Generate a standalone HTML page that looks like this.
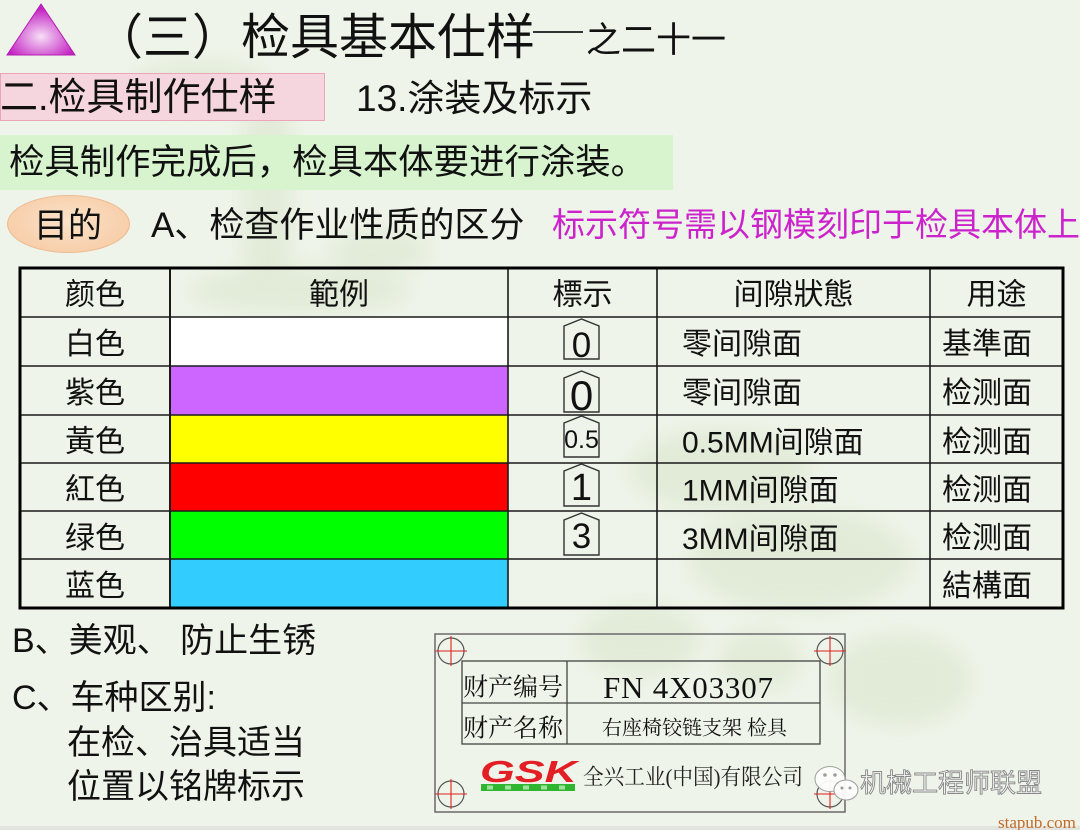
<!DOCTYPE html>
<html><head><meta charset="utf-8">
<style>
html,body{margin:0;padding:0}
body{width:1080px;height:830px;position:relative;overflow:hidden;background:#eef4e9;font-family:"Liberation Sans","Noto Sans CJK SC",sans-serif;color:#111}
.t{position:absolute;white-space:pre;line-height:1}
svg{position:absolute;left:0;top:0}
.box{position:absolute;box-sizing:border-box}
</style></head><body>
<svg width="1080" height="830" viewBox="0 0 1080 830">
<defs>
 <filter id="bl" x="-50%" y="-50%" width="200%" height="200%"><feGaussianBlur stdDeviation="10"/></filter>
 <radialGradient id="tri" cx="0.5" cy="0.64" r="0.55">
   <stop offset="0" stop-color="#f6e0f6"/><stop offset="0.35" stop-color="#e49ae4"/><stop offset="1" stop-color="#c222c2"/>
 </radialGradient>
</defs>
<!-- faint watermark -->
<g filter="url(#bl)" fill="#b6cc9a" opacity="0.22">
 <ellipse cx="200" cy="85" rx="70" ry="22"/>
 <rect x="245" y="110" width="45" height="160"/>
 <ellipse cx="300" cy="290" rx="110" ry="22"/>
 <ellipse cx="380" cy="250" rx="50" ry="20"/>
 <ellipse cx="720" cy="470" rx="90" ry="40"/>
 <ellipse cx="800" cy="560" rx="110" ry="50"/>
 <ellipse cx="640" cy="640" rx="60" ry="35"/>
 <ellipse cx="900" cy="680" rx="70" ry="45"/>
 <ellipse cx="760" cy="660" rx="40" ry="30"/>
</g>
<!-- triangle -->
<polygon points="41,4 7,55 75,55" fill="url(#tri)" stroke="#b41cb4" stroke-width="1"/>

<!-- table fills -->
<rect x="170" y="317" width="338" height="49" fill="#ffffff"/>
<rect x="170" y="366" width="338" height="49" fill="#cc66ff"/>
<rect x="170" y="415" width="338" height="48" fill="#ffff00"/>
<rect x="170" y="463" width="338" height="48" fill="#ff0000"/>
<rect x="170" y="511" width="338" height="48" fill="#00ff00"/>
<rect x="170" y="559" width="338" height="49" fill="#33ccff"/>
<!-- table lines -->
<g stroke="#1a1a1a" stroke-width="1.6">
 <line x1="20" y1="317" x2="1063" y2="317"/>
 <line x1="20" y1="366" x2="1063" y2="366"/>
 <line x1="20" y1="415" x2="1063" y2="415"/>
 <line x1="20" y1="463" x2="1063" y2="463"/>
 <line x1="20" y1="511" x2="1063" y2="511"/>
 <line x1="20" y1="559" x2="1063" y2="559"/>
 <line x1="170" y1="268" x2="170" y2="608" stroke-width="2"/>
 <line x1="508" y1="268" x2="508" y2="608"/>
 <line x1="657" y1="268" x2="657" y2="608"/>
 <line x1="930" y1="268" x2="930" y2="608"/>
</g>
<rect x="20" y="268" width="1043" height="340" fill="none" stroke="#000" stroke-width="3"/>

<!-- table text -->
<g font-family="Liberation Sans, Noto Sans CJK SC, sans-serif" font-size="30" fill="#111">
 <g text-anchor="middle">
  <text x="95" y="304.5">颜色</text>
  <text x="339" y="304.5">範例</text>
  <text x="582.5" y="304.5">標示</text>
  <text x="793.5" y="304.5">间隙狀態</text>
  <text x="996.5" y="304.5">用途</text>
  <text x="95" y="354">白色</text>
  <text x="95" y="403">紫色</text>
  <text x="95" y="451.5">黃色</text>
  <text x="95" y="499.5">紅色</text>
  <text x="95" y="548">绿色</text>
  <text x="95" y="596">蓝色</text>
 </g>
 <text x="682" y="354">零间隙面</text>
 <text x="682" y="403">零间隙面</text>
 <text x="682" y="452.5">0.5MM间隙面</text>
 <text x="682" y="500.5">1MM间隙面</text>
 <text x="682" y="549">3MM间隙面</text>
 <text x="942" y="354">基準面</text>
 <text x="942" y="403">检测面</text>
 <text x="942" y="452">检测面</text>
 <text x="942" y="500">检测面</text>
 <text x="942" y="548">检测面</text>
 <text x="942" y="596">結構面</text>
</g>
<!-- markers -->
<g fill="none" stroke="#333" stroke-width="1.4">
 <path d="M564,326 L581.5,319 L599,326 L599,359 L564,359 Z"/>
 <path d="M564,378 L581.5,371 L599,378 L599,412 L564,412 Z"/>
 <path d="M564,423 L581.5,416 L599,423 L599,457 L564,457 Z"/>
 <path d="M564,471 L581.5,464 L599,471 L599,506 L564,506 Z"/>
 <path d="M564,520 L581.5,513 L599,520 L599,555 L564,555 Z"/>
</g>
<g font-family="Liberation Sans, sans-serif" fill="#111" text-anchor="middle">
 <text x="581.5" y="357" font-size="35">0</text>
 <text x="581.5" y="410" font-size="42">0</text>
 <text x="581.5" y="448" font-size="25">0.5</text>
 <text x="581.5" y="500" font-size="38">1</text>
 <text x="581.5" y="548" font-size="35">3</text>
</g>

<!-- nameplate -->
<rect x="435" y="634" width="410" height="178" fill="none" stroke="#6a6a6a" stroke-width="1.5"/>
<g stroke="#444" stroke-width="1.3" fill="none">
 <rect x="462" y="661" width="358" height="83"/>
 <line x1="462" y1="703" x2="820" y2="703"/>
 <line x1="567" y1="661" x2="567" y2="744"/>
</g>
<g fill="none">
 <g stroke="#555" stroke-width="1.2">
  <circle cx="451" cy="651" r="13"/>
  <circle cx="830" cy="651" r="13"/>
  <circle cx="451" cy="794" r="13"/>
  <circle cx="830" cy="794" r="13"/>
 </g>
 <g stroke="#e02020" stroke-width="1.1">
  <line x1="435" y1="651" x2="467" y2="651"/><line x1="451" y1="636" x2="451" y2="666"/>
  <line x1="814" y1="651" x2="846" y2="651"/><line x1="830" y1="636" x2="830" y2="666"/>
  <line x1="435" y1="794" x2="467" y2="794"/><line x1="451" y1="779" x2="451" y2="809"/>
  <line x1="814" y1="794" x2="846" y2="794"/><line x1="830" y1="779" x2="830" y2="809"/>
 </g>
</g>
<g font-family="Liberation Serif, Noto Serif CJK SC, serif" fill="#111">
 <text x="463" y="695.5" font-size="25">财产编号</text>
 <text x="463" y="736.5" font-size="25">财产名称</text>
 <text x="603" y="698" font-size="31" textLength="170" lengthAdjust="spacing">FN 4X03307</text>
 <text x="602" y="734.5" font-size="20">右座椅铰链支架 检具</text>
 <text x="583" y="784.5" font-size="22" textLength="220" lengthAdjust="spacingAndGlyphs" fill="#222">全兴工业(中国)有限公司</text>
</g>
<text x="480" y="782" font-family="Liberation Sans, sans-serif" font-weight="bold" font-style="italic" font-size="31" fill="#e31e24" textLength="97" lengthAdjust="spacingAndGlyphs">GSK</text>
<rect x="481" y="784" width="94" height="7" fill="#2fb52f"/>
<g fill="#9fe39f">
 <rect x="487" y="785.5" width="6" height="4"/><rect x="505" y="785.5" width="6" height="4"/><rect x="523" y="785.5" width="6" height="4"/><rect x="541" y="785.5" width="6" height="4"/><rect x="559" y="785.5" width="6" height="4"/>
</g>

<!-- wechat watermark -->
<g opacity="0.95">
 <ellipse cx="830" cy="779" rx="15" ry="12.5" fill="#fdfdfd" stroke="#9a9a9a" stroke-width="1"/>
 <circle cx="825" cy="775" r="1.8" fill="#999"/><circle cx="835" cy="775" r="1.8" fill="#999"/>
 <ellipse cx="846" cy="790" rx="12" ry="10" fill="#fdfdfd" stroke="#9a9a9a" stroke-width="1"/>
 <circle cx="842" cy="788" r="1.5" fill="#999"/><circle cx="850" cy="788" r="1.5" fill="#999"/>
</g>
<text x="860" y="792" font-family="Liberation Sans, Noto Sans CJK SC, sans-serif" font-size="26" fill="#f7f7f7" stroke="#888" stroke-width="0.9">机械工程师联盟</text>

<rect x="0" y="826" width="1080" height="4" fill="#e2e5df"/>
<text x="998" y="828" font-family="Liberation Serif, serif" font-size="17" fill="#c46a28">stapub.com</text>
</svg>

<!-- boxes -->
<div class="box" style="left:0;top:73px;width:325px;height:48px;background:#f5d5de;border:1px solid #eba4b8;"></div>
<div class="box" style="left:0;top:135px;width:673px;height:55px;background:#d7f4cf;"></div>
<div class="box" style="left:7px;top:195px;width:123px;height:58px;border-radius:50%;background:radial-gradient(ellipse at 50% 45%,#fbe2c8 0%,#f7cfab 70%,#f1c19a 100%);border:1px solid #efbb92;"></div>

<!-- text -->
<div class="t" style="left:94px;top:14px;font-size:49px;">（三）检具基本仕样</div>
<div class="box" style="left:533px;top:31px;width:50px;height:2px;background:#333;"></div>
<div class="t" style="left:586px;top:23px;font-size:35px;">之二十一</div>

<div class="t" style="left:0;top:79px;font-size:38px;">二.检具制作仕样</div>
<div class="t" style="left:356px;top:80px;font-size:37px;">13.涂装及标示</div>

<div class="t" style="left:9px;top:145px;font-size:35.4px;">检具制作完成后，检具本体要进行涂装。</div>

<div class="t" style="left:34px;top:209px;font-size:34px;">目的</div>
<div class="t" style="left:151px;top:208px;font-size:35px;">A、检查作业性质的区分</div>
<div class="t" style="left:552px;top:208px;font-size:33px;color:#cc22cc;">标示符号需以钢模刻印于检具本体上</div>

<div class="t" style="left:12px;top:624px;font-size:34px;">B、美观、 防止生锈</div>
<div class="t" style="left:12px;top:681px;font-size:34px;">C、车种区别:</div>
<div class="t" style="left:67px;top:726px;font-size:34px;">在检、治具适当</div>
<div class="t" style="left:67px;top:770px;font-size:34px;">位置以铭牌标示</div>
</body></html>
